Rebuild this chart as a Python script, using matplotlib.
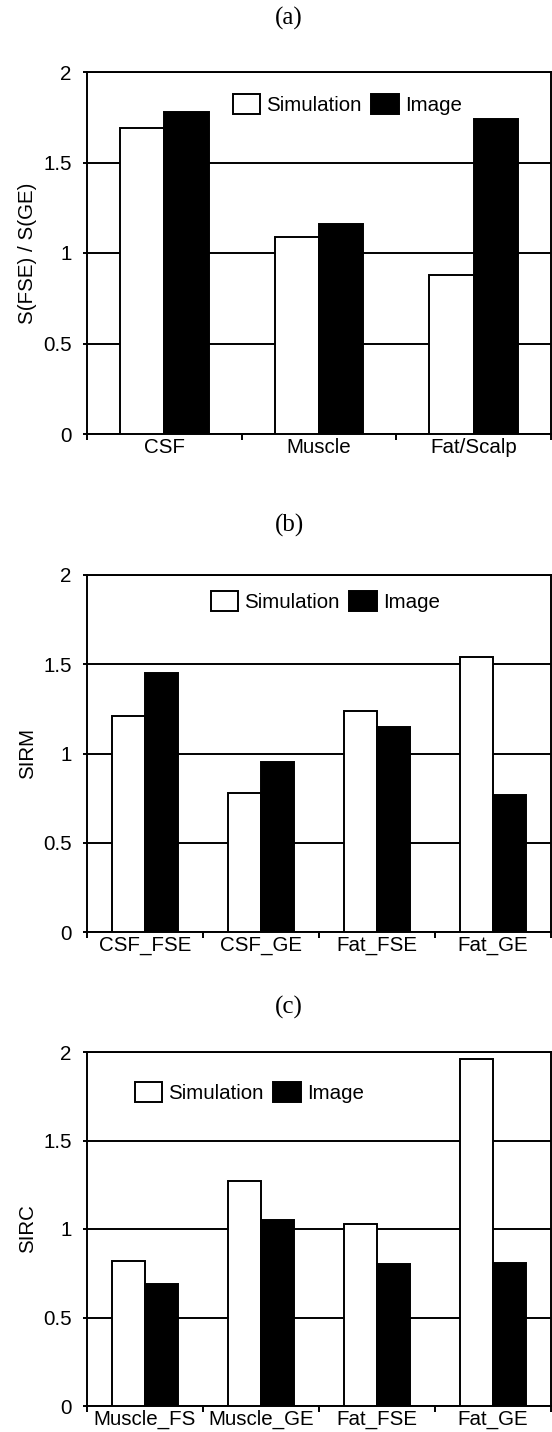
import numpy as np
import matplotlib
matplotlib.use("Agg")
import matplotlib.pyplot as plt

# data
a_cats = ["CSF", "Muscle", "Fat/Scalp"]
a_sim = [1.69, 1.09, 0.88]
a_img = [1.78, 1.16, 1.74]

b_cats = ["CSF_FSE", "CSF_GE", "Fat_FSE", "Fat_GE"]
b_sim = [1.21, 0.78, 1.24, 1.54]
b_img = [1.45, 0.95, 1.15, 0.77]

c_cats = ["Muscle_FS", "Muscle_GE", "Fat_FSE", "Fat_GE"]
c_sim = [0.82, 1.27, 1.03, 1.96]
c_img = [0.69, 1.05, 0.80, 0.81]

yticks = [0, 0.5, 1, 1.5, 2]
yticklabels = ["0", "0.5", "1", "1.5", "2"]

plt.rcParams['font.family'] = ['Liberation Sans', 'DejaVu Sans']
fs = 14.8
lw = 1.4

W, H = 552, 1432
fig = plt.figure(figsize=(W / 100, H / 100), dpi=100)


def px_axes(top, bottom, left=87, right=551):
    return fig.add_axes([left / W, 1 - bottom / H, (right - left) / W, (bottom - top) / H])


def panel(ax, cats, sim, img, ylabel, leg_xy, title, title_y):
    n = len(cats)
    w = 1 / 3.5
    x = np.arange(n) + 0.5
    ax.bar(x - w / 2, sim, w, color="white", edgecolor="black", linewidth=lw,
           label="Simulation", zorder=3)
    ax.bar(x + w / 2, img, w, color="black", edgecolor="black", linewidth=lw,
           label="Image", zorder=3)
    ax.set_xlim(0, n)
    ax.set_ylim(0, 2)
    ax.set_yticks(yticks)
    ax.set_yticklabels(yticklabels, fontsize=fs)
    ax.yaxis.grid(True, color="black", linewidth=lw)
    ax.set_axisbelow(True)
    # boundaries get tick marks, centres get the labels
    ax.set_xticks(np.arange(n + 1))
    ax.set_xticklabels([])
    ax.set_xticks(x, minor=True)
    ax.set_xticklabels(cats, minor=True, fontsize=fs)
    ax.tick_params(axis="x", which="major", length=4, width=lw, direction="out")
    ax.tick_params(axis="x", which="minor", length=0, pad=3)
    ax.tick_params(axis="y", length=3, width=lw, pad=8)
    for s in ax.spines.values():
        s.set_linewidth(lw)
    ax.set_ylabel(ylabel, fontsize=fs)
    ax.yaxis.set_label_coords(-0.108, 0.5)
    ax.legend(loc="upper left", bbox_to_anchor=(leg_xy[0] / W, 1 - leg_xy[1] / H),
              bbox_transform=fig.transFigure, ncol=2, frameon=False, fontsize=fs,
              handlelength=1.33, handleheight=1.15, handletextpad=0.3,
              columnspacing=0.45, borderpad=0, borderaxespad=0)
    fig.text(289 / W, 1 - title_y / H, title, ha="center", va="center",
             fontsize=18, family="Liberation Serif")


ax_a = px_axes(72, 434)
panel(ax_a, a_cats, a_sim, a_img, "S(FSE) / S(GE)", (233, 94), "(a)", 18)

ax_b = px_axes(575, 932)
panel(ax_b, b_cats, b_sim, b_img, "SIRM", (211, 591), "(b)", 525)

ax_c = px_axes(1052, 1406)
panel(ax_c, c_cats, c_sim, c_img, "SIRC", (135, 1082), "(c)", 1007)

fig.savefig("out.png", dpi=100)
